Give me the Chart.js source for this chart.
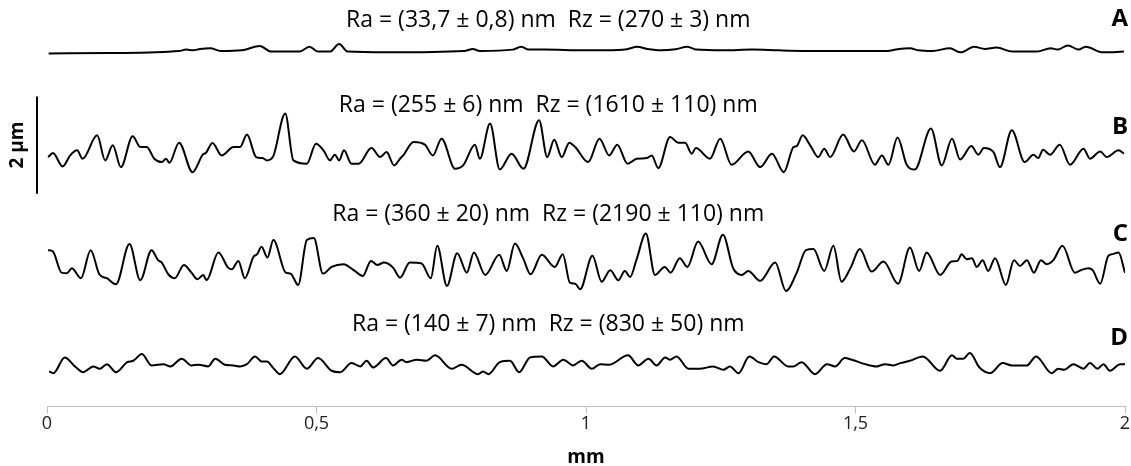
<!DOCTYPE html>
<html>
<head>
<meta charset="utf-8">
<script src="https://cdn.jsdelivr.net/npm/chart.js@4/dist/chart.umd.min.js"></script>
<style>
  html, body { margin: 0; padding: 0; background: #fff; }
  #wrap { width: 1131px; height: 466px; position: relative; }
</style>
</head>
<body>
<div id="wrap"><canvas id="profileChart"></canvas></div>
<script>
// x positions in mm, heights in nm (peaks and valleys)
const aX = [0.003, 0.116, 0.245, 0.258, 0.271, 0.284, 0.303, 0.322, 0.361, 0.395, 0.416, 0.468, 0.487, 0.503, 0.525, 0.542, 0.558, 0.632, 0.774, 0.790, 0.803, 0.864, 0.880, 0.893, 0.922, 0.998, 1.037, 1.076, 1.095, 1.114, 1.140, 1.166, 1.188, 1.204, 1.256, 1.308, 1.359, 1.450, 1.559, 1.578, 1.601, 1.617, 1.643, 1.675, 1.695, 1.720, 1.740, 1.762, 1.791, 1.837, 1.862, 1.875, 1.894, 1.914, 1.927, 1.959, 1.998];
const aNm = [-47, -39, 2, 31, 16, 45, 60, 2, 16, 103, -10, -10, 89, -10, -10, 146, -10, -25, 2, 45, 2, 31, 89, 31, 31, 16, 16, 39, 89, 45, 16, 39, 89, 31, 16, 31, 16, 2, 2, 39, 60, 16, 2, 60, -25, 89, 45, 74, -10, -10, 60, 31, 118, 31, 89, -25, -10];

const bX = [0.002, 0.011, 0.029, 0.043, 0.056, 0.066, 0.093, 0.108, 0.122, 0.137, 0.159, 0.173, 0.185, 0.199, 0.213, 0.221, 0.227, 0.245, 0.270, 0.289, 0.295, 0.307, 0.324, 0.346, 0.358, 0.371, 0.388, 0.400, 0.408, 0.419, 0.442, 0.457, 0.482, 0.499, 0.513, 0.525, 0.534, 0.542, 0.551, 0.565, 0.578, 0.602, 0.618, 0.630, 0.644, 0.655, 0.661, 0.680, 0.701, 0.716, 0.732, 0.757, 0.772, 0.794, 0.803, 0.822, 0.840, 0.862, 0.884, 0.913, 0.928, 0.941, 0.955, 0.969, 0.980, 1.004, 1.025, 1.043, 1.058, 1.077, 1.094, 1.113, 1.122, 1.134, 1.156, 1.171, 1.184, 1.196, 1.204, 1.230, 1.249, 1.270, 1.301, 1.323, 1.345, 1.367, 1.385, 1.391, 1.402, 1.416, 1.431, 1.442, 1.453, 1.477, 1.497, 1.512, 1.536, 1.549, 1.561, 1.578, 1.595, 1.610, 1.640, 1.660, 1.679, 1.694, 1.715, 1.728, 1.738, 1.756, 1.768, 1.790, 1.814, 1.830, 1.839, 1.848, 1.861, 1.879, 1.898, 1.923, 1.935, 1.954, 1.966, 1.988, 1.998];
const bNm = [-76, 6, -268, -41, 62, -109, 371, -144, 165, -282, 351, 130, 130, -109, -179, -109, -192, 221, -386, -27, 14, 212, -41, 130, 130, 386, -76, -97, -144, -76, 819, -144, -212, 200, 62, -144, -27, -144, 62, -212, -212, 109, -76, 27, -247, -109, -41, 233, 179, -41, 303, -316, -247, 179, -109, 612, -330, -6, -316, 680, -76, 282, -76, 221, 130, -179, 303, -41, 179, -212, -109, -97, -41, -303, 336, 221, 221, -6, 109, -109, 303, -233, 41, -282, -6, -386, 130, 151, 371, 165, -76, 97, -76, 386, 41, 268, -233, -41, -233, 324, -233, -330, 509, -247, 303, -124, 151, -27, 109, 27, -282, 474, -179, -27, -97, 76, -27, 179, -233, 97, -109, 41, -76, 62, -6];

const cX = [0.002, 0.011, 0.027, 0.037, 0.046, 0.063, 0.081, 0.097, 0.111, 0.128, 0.153, 0.173, 0.194, 0.206, 0.213, 0.225, 0.237, 0.254, 0.268, 0.279, 0.290, 0.296, 0.318, 0.336, 0.343, 0.355, 0.367, 0.383, 0.390, 0.398, 0.409, 0.420, 0.443, 0.452, 0.466, 0.482, 0.495, 0.512, 0.528, 0.550, 0.571, 0.586, 0.601, 0.613, 0.625, 0.642, 0.655, 0.673, 0.695, 0.712, 0.724, 0.742, 0.761, 0.779, 0.792, 0.813, 0.839, 0.853, 0.868, 0.884, 0.897, 0.918, 0.942, 0.957, 0.970, 0.980, 0.989, 1.012, 1.029, 1.045, 1.060, 1.072, 1.082, 1.094, 1.111, 1.128, 1.146, 1.157, 1.174, 1.188, 1.208, 1.233, 1.254, 1.273, 1.289, 1.301, 1.323, 1.351, 1.371, 1.391, 1.408, 1.422, 1.442, 1.459, 1.474, 1.491, 1.508, 1.530, 1.552, 1.579, 1.601, 1.618, 1.632, 1.657, 1.678, 1.689, 1.697, 1.706, 1.716, 1.725, 1.736, 1.746, 1.759, 1.779, 1.794, 1.805, 1.818, 1.831, 1.844, 1.855, 1.867, 1.884, 1.907, 1.918, 1.932, 1.940, 1.954, 1.969, 1.977, 1.988, 2.000];
const cNm = [303, 274, -159, -171, -68, -274, 303, -192, -274, -398, 427, -315, 303, 97, 47, -192, -274, 0, -159, -295, -206, -315, 254, -56, -89, 82, -274, 165, 221, 371, 151, 509, -159, -179, -412, 509, 551, -179, -41, 14, -124, -227, 82, 0, 47, -56, -262, 47, 27, -274, 392, -433, 241, -159, 254, -206, 206, -124, 439, 118, -192, 206, -41, 221, -365, -386, -501, 186, -344, -109, -315, -124, -247, 118, 645, -206, -41, -159, 138, -41, 480, 14, 619, -68, -206, -124, -330, 47, -536, -159, 303, 324, -124, 392, -344, -56, 324, -138, 68, -386, 357, -124, 254, -206, 68, 82, 221, 118, 138, -41, 97, -124, 138, -412, 97, -21, 97, -159, 97, 14, 97, 392, -159, -109, -68, -109, -386, 186, 221, 254, -159];

const dX = [0.004, 0.012, 0.033, 0.052, 0.067, 0.086, 0.098, 0.111, 0.128, 0.149, 0.160, 0.176, 0.194, 0.216, 0.229, 0.250, 0.268, 0.281, 0.299, 0.312, 0.330, 0.346, 0.358, 0.371, 0.386, 0.398, 0.408, 0.420, 0.432, 0.460, 0.482, 0.503, 0.528, 0.544, 0.565, 0.571, 0.581, 0.593, 0.605, 0.629, 0.642, 0.658, 0.667, 0.686, 0.704, 0.720, 0.751, 0.769, 0.800, 0.809, 0.819, 0.840, 0.859, 0.876, 0.896, 0.918, 0.939, 0.958, 0.976, 0.992, 1.011, 1.026, 1.043, 1.078, 1.097, 1.116, 1.131, 1.147, 1.156, 1.168, 1.190, 1.211, 1.236, 1.255, 1.267, 1.283, 1.303, 1.320, 1.335, 1.349, 1.375, 1.385, 1.400, 1.425, 1.447, 1.462, 1.480, 1.493, 1.518, 1.539, 1.555, 1.570, 1.583, 1.601, 1.625, 1.657, 1.679, 1.688, 1.700, 1.712, 1.730, 1.750, 1.773, 1.790, 1.818, 1.835, 1.864, 1.876, 1.887, 1.904, 1.923, 1.935, 1.949, 1.960, 1.972, 1.991, 2.000];
const dNm = [-144, -179, 144, -41, -159, -41, -89, 6, -159, 47, 76, 212, -21, 6, -41, 118, -21, -6, -41, 118, -6, -21, -41, 6, 165, 62, 62, -76, -200, 165, -89, 130, -130, -159, 27, 6, -41, 76, -62, 130, -21, 97, 47, 97, 76, 186, -89, -6, -200, -144, -200, 47, 76, -159, 144, 165, -41, 97, -21, 76, -89, 6, -6, 186, -21, 118, -21, 144, 97, 165, -89, -89, -41, -109, -41, -179, 165, 47, 6, 165, -41, -41, 47, -200, 6, -41, 130, 97, 6, -41, 6, -21, 27, 76, 165, -130, 186, 118, 118, 233, -62, -179, 27, -21, -21, 165, -179, -89, -109, 6, -89, 27, -89, 6, -130, 6, 6];

const sampleNames = ['A', 'B', 'C', 'D'];
const roughnessTexts = [
  'Ra = (33,7 ± 0,8) nm  Rz = (270 ± 3) nm',
  'Ra = (255 ± 6) nm  Rz = (1610 ± 110) nm',
  'Ra = (360 ± 20) nm  Rz = (2190 ± 110) nm',
  'Ra = (140 ± 7) nm  Rz = (830 ± 50) nm'
];
const xTickValues = [0, 0.5, 1, 1.5, 2];
const xTickLabels = ['0', '0,5', '1', '1,5', '2'];

// layout: vertical baseline of each profile (µm above the axis) and label spots
const baselines = [7.30, 5.20, 2.91, 0.866];
const textY = [7.94, 6.19, 3.94, 1.69];
const letterY = [7.95, 5.73, 3.55, 1.40];
const scaleBarBottom = 4.37;
const scaleBarLength = 2; // µm

const FONT = '"Open Sans", Lato, sans-serif';

const profiles = [[aX, aNm], [bX, bNm], [cX, cNm], [dX, dNm]];
const datasets = profiles.map(([xs, nm], i) => ({
  label: sampleNames[i],
  data: xs.map((x, k) => ({ x: x, y: baselines[i] + nm[k] / 1000 })),
  borderColor: '#000',
  borderWidth: 2,
  pointRadius: 0,
  fill: false,
  cubicInterpolationMode: 'monotone'
}));

const annotations = {
  id: 'annotations',
  afterDraw(chart) {
    const { ctx, scales: { x, y } } = chart;
    ctx.save();
    ctx.fillStyle = '#000';
    ctx.textBaseline = 'middle';

    ctx.font = '23px ' + FONT;
    ctx.textAlign = 'center';
    roughnessTexts.forEach((t, i) => {
      ctx.fillText(t, x.getPixelForValue(0.93), y.getPixelForValue(textY[i]));
    });

    ctx.font = 'bold 24px ' + FONT;
    ctx.textAlign = 'right';
    sampleNames.forEach((n, i) => {
      ctx.fillText(n, chart.width - 3, y.getPixelForValue(letterY[i]));
    });

    // scale bar
    const barX = x.left - 10;
    const y0 = y.getPixelForValue(scaleBarBottom);
    const y1 = y.getPixelForValue(scaleBarBottom + scaleBarLength);
    ctx.strokeStyle = '#000';
    ctx.lineWidth = 2;
    ctx.beginPath();
    ctx.moveTo(barX, y0);
    ctx.lineTo(barX, y1);
    ctx.stroke();

    ctx.translate(18, (y0 + y1) / 2);
    ctx.rotate(-Math.PI / 2);
    ctx.font = 'bold 19px ' + FONT;
    ctx.textAlign = 'center';
    ctx.fillText(scaleBarLength + ' µm', 0, 0);
    ctx.restore();
  }
};

const ctx = document.getElementById('profileChart').getContext('2d');
new Chart(ctx, {
  type: 'line',
  data: { datasets },
  options: {
    responsive: true,
    maintainAspectRatio: false,
    animation: false,
    layout: { padding: { left: 47, right: 6, top: 0, bottom: 0 } },
    plugins: { legend: { display: false }, tooltip: { enabled: false } },
    scales: {
      x: {
        type: 'linear',
        min: 0,
        max: 2,
        afterBuildTicks: (scale) => { scale.ticks = xTickValues.map(v => ({ value: v })); },
        ticks: {
          autoSkip: false,
          maxRotation: 0,
          padding: -1,
          color: '#222',
          font: { family: FONT, size: 18 },
          callback: (v) => xTickLabels[xTickValues.indexOf(v)]
        },
        grid: { drawOnChartArea: false, drawTicks: true, tickLength: 7, color: '#bfbfbf' },
        border: { display: true, color: '#bfbfbf', width: 1 },
        title: { display: true, text: 'mm', color: '#000', font: { family: FONT, size: 19, weight: 'bold' }, padding: { top: 13, bottom: -3 } }
      },
      y: { display: false, min: 0, max: 8.35 }
    }
  },
  plugins: [annotations]
});
</script>
</body>
</html>
